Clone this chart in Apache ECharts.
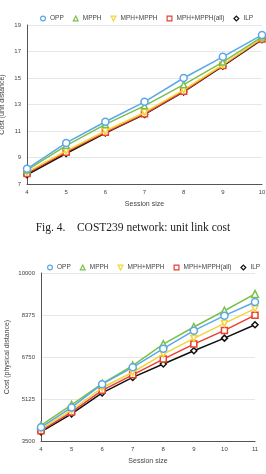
<!DOCTYPE html>
<html>
<head>
<meta charset="utf-8">
<script src="https://cdn.jsdelivr.net/npm/echarts@6/dist/echarts.min.js"></script>
<style>
  html, body { margin: 0; padding: 0; background: #fff; }
  #chart { width: 266px; height: 474px; }
</style>
</head>
<body>
<div id="chart"></div>
<script>
// session sizes (x categories)
const sessions1 = ['4', '5', '6', '7', '8', '9', '10'];
const sessions2 = ['4', '5', '6', '7', '8', '9', '10', '11'];

const seriesNames = ['OPP', 'MPPH', 'MPH+MPPH', 'MPH+MPPH(all)', 'ILP'];

// Fig. 4: COST239, unit link cost
const unitOPP = [8.15, 10.1, 11.7, 13.2, 15.0, 16.6, 18.25];
const unitMPPH = [8.05, 9.9, 11.5, 12.9, 14.5, 16.2, 18.1];
const unitMPHMPPH = [7.9, 9.5, 11.0, 12.4, 14.1, 16.0, 18.0];
const unitMPHMPPHall = [7.8, 9.4, 10.9, 12.3, 14.0, 15.95, 17.95];
const unitILP = [7.7, 9.3, 10.85, 12.25, 13.95, 15.9, 17.9];

// second chart: physical distance cost
const physOPP = [4030, 4800, 5700, 6350, 7070, 7770, 8350, 8880];
const physMPPH = [4100, 4900, 5720, 6420, 7250, 7910, 8540, 9190];
const physMPHMPPH = [3960, 4700, 5560, 6160, 6860, 7470, 8050, 8620];
const physMPHMPPHall = [3900, 4620, 5460, 6060, 6670, 7250, 7780, 8370];
const physILP = [3850, 4550, 5360, 5960, 6480, 6990, 7480, 8000];

const yTicks1 = { min: 7, max: 19, interval: 2 };
const yTicks2 = { min: 3500, max: 10000, interval: 1625 };

const colors = ['#5aa8e8', '#7cc04c', '#f4d43a', '#e8402e', '#111111'];
const symbols = ['circle', 'triangle', 'path://M0,0 L10,0 L5,9 Z', 'rect', 'diamond'];

const chart = echarts.init(document.getElementById('chart'));

const mkSeries = (name, idx, data, gi, size) => ({
  name: name,
  type: 'line',
  xAxisIndex: gi,
  yAxisIndex: gi,
  data: data,
  symbol: symbols[idx],
  symbolSize: size,
  showAllSymbol: true,
  lineStyle: { width: 1.5, color: colors[idx] },
  itemStyle: { color: '#fff', borderColor: colors[idx], borderWidth: 1.5 },
  z: 10 - idx
});

const font = 'Liberation Sans, Arial';
const axisTxt = { fontSize: 6, color: '#444', fontFamily: font };

const legendBase = {
  itemWidth: 6,
  itemHeight: 6,
  itemGap: 8,
  width: 250,
  itemStyle: { color: '#fff', borderWidth: 1.2 },
  lineStyle: { opacity: 0 },
  textStyle: { fontSize: 6.5, color: '#444', fontFamily: font, padding: [0, 0, 0, -1] },
  data: seriesNames
};

const option = {
  animation: false,
  legend: [
    Object.assign({}, legendBase, { top: 10, left: 34 }),
    Object.assign({}, legendBase, { top: 259, left: 41, itemGap: 8 })
  ],
  grid: [
    { left: 27, right: 4, top: 25, height: 159, outerBoundsMode: 'none' },
    { left: 41, right: 11, top: 273, height: 168, outerBoundsMode: 'none' }
  ],
  xAxis: [0, 1].map(i => ({
    type: 'category',
    gridIndex: i,
    data: i === 0 ? sessions1 : sessions2,
    boundaryGap: false,
    name: 'Session size',
    nameLocation: 'middle',
    nameGap: 17,
    nameMoveOverlap: false,
    nameTextStyle: { fontSize: 7, color: '#444', fontFamily: font },
    axisLine: { lineStyle: { color: '#555', width: 1 } },
    axisTick: { show: false },
    axisLabel: Object.assign({ margin: 5 }, axisTxt),
    splitLine: { show: false }
  })),
  yAxis: [0, 1].map(i => Object.assign({
    type: 'value',
    gridIndex: i,
    name: i === 0 ? 'Cost (unit distance)' : 'Cost (physical distance)',
    nameLocation: 'middle',
    nameGap: i === 0 ? 21 : 30,
    nameMoveOverlap: false,
    nameTextStyle: { fontSize: 7, color: '#444', fontFamily: font },
    axisLine: { show: true, lineStyle: { color: '#555', width: 1 } },
    axisTick: { show: false },
    axisLabel: Object.assign({ margin: 6, formatter: v => String(v) }, axisTxt),
    splitLine: { lineStyle: { color: '#e6e6e6', width: 1 } }
  }, i === 0 ? yTicks1 : yTicks2)),
  graphic: [{
    type: 'text',
    left: 'center',
    top: 222,
    style: {
      text: 'Fig. 4.    COST239 network: unit link cost',
      fontSize: 11.5,
      fontFamily: 'Liberation Serif, Times New Roman',
      fill: '#222'
    }
  }],
  series: [
    mkSeries(seriesNames[0], 0, unitOPP, 0, 7),
    mkSeries(seriesNames[1], 1, unitMPPH, 0, 6),
    mkSeries(seriesNames[2], 2, unitMPHMPPH, 0, 6),
    mkSeries(seriesNames[3], 3, unitMPHMPPHall, 0, 6),
    mkSeries(seriesNames[4], 4, unitILP, 0, 6),
    mkSeries(seriesNames[0], 0, physOPP, 1, 7),
    mkSeries(seriesNames[1], 1, physMPPH, 1, 7),
    mkSeries(seriesNames[2], 2, physMPHMPPH, 1, 6),
    mkSeries(seriesNames[3], 3, physMPHMPPHall, 1, 6),
    mkSeries(seriesNames[4], 4, physILP, 1, 6)
  ]
};

chart.setOption(option);
</script>
</body>
</html>
